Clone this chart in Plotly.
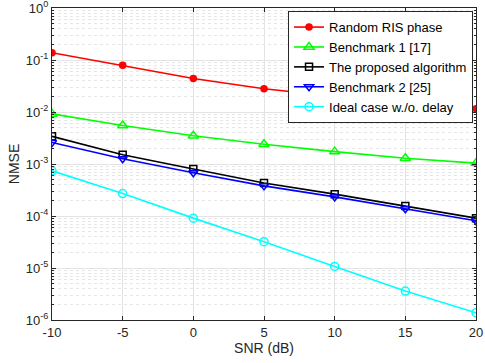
import plotly.graph_objects as go

snr_db = [-10, -5, 0, 5, 10, 15, 20]

nmse_random = [0.138, 0.079, 0.044, 0.028, 0.020, 0.0143, 0.0115]
nmse_bench1 = [0.0092, 0.0055, 0.0035, 0.0024, 0.00173, 0.00129, 0.00104]
nmse_proposed = [0.0034, 0.0015, 0.00080, 0.00043, 0.000263, 0.000155, 0.000091]
nmse_bench2 = [0.0026, 0.00126, 0.00068, 0.00038, 0.000233, 0.000138, 0.000081]
nmse_ideal = [0.00074, 0.00027, 0.000091, 0.000032, 0.0000107, 0.0000036, 0.00000138]

x_ticks = [-10, -5, 0, 5, 10, 15, 20]
x_ticktext = ["-10", "-5", "0", "5", "10", "15", "20"]
y_ticks = [1e-6, 1e-5, 1e-4, 1e-3, 1e-2, 1e-1, 1e0]
y_ticktext = ["10<sup>-6</sup>", "10<sup>-5</sup>", "10<sup>-4</sup>", "10<sup>-3</sup>",
              "10<sup>-2</sup>", "10<sup>-1</sup>", "10<sup>0</sup>"]

series = [
    ("Random RIS phase", nmse_random, "#ff0000", dict(symbol="circle", size=6)),
    ("Benchmark 1 [17]", nmse_bench1, "#00ff00", dict(symbol="triangle-up-open", size=9)),
    ("The proposed algorithm", nmse_proposed, "#000000", dict(symbol="square-open", size=7)),
    ("Benchmark 2 [25]", nmse_bench2, "#0000ff", dict(symbol="triangle-down-open", size=8)),
    ("Ideal case w./o. delay", nmse_ideal, "#00ffff", dict(symbol="circle-open", size=8)),
]

fig = go.Figure()
for name, vals, color, marker in series:
    fig.add_trace(go.Scatter(
        x=snr_db, y=vals, name=name, mode="lines+markers",
        line=dict(color=color, width=1.6),
        marker=dict(color=color, line=dict(color=color, width=1.5), **marker),
    ))

axis_color = "#262626"
fig.update_layout(
    width=485, height=363,
    margin=dict(l=52, r=9, t=8, b=43),
    plot_bgcolor="white", paper_bgcolor="white",
    font=dict(family="Liberation Sans, Arial, sans-serif", size=13, color=axis_color),
    legend=dict(x=0.993, y=0.99, xanchor="right", yanchor="top",
                bgcolor="white", bordercolor="#262626", borderwidth=1,
                font=dict(size=13, color="#000000"), tracegroupgap=0),
)
fig.update_xaxes(
    range=[-10, 20], tickvals=x_ticks, ticktext=x_ticktext, ticks="inside", ticklen=4,
    showline=True, linecolor=axis_color, mirror="ticks", tickcolor=axis_color,
    showgrid=True, gridcolor="#e3e3e3", zeroline=False, automargin=False,
    tickfont=dict(size=13), ticklabeloverflow="allow",
    title=dict(text="SNR (dB)", standoff=4, font=dict(size=14)),
)
fig.update_yaxes(
    type="log", range=[-6, 0], tickvals=y_ticks, ticktext=y_ticktext,
    ticks="inside", ticklen=4,
    showline=True, linecolor=axis_color, mirror="ticks", tickcolor=axis_color,
    showgrid=True, gridcolor="#e3e3e3", zeroline=False, automargin=False,
    tickfont=dict(size=13), ticklabeloverflow="allow",
    minor=dict(dtick="D1", ticks="inside", ticklen=2, tickcolor=axis_color,
               showgrid=True, gridcolor="#e6e6e6", griddash="dot"),
    title=dict(text="NMSE", standoff=2, font=dict(size=14)),
)

# the page body has an 8px default margin; drop it so the figure fills the window
fig.write_html("out.html", config={"displayModeBar": False},
               post_script="document.body.style.margin='0';")
